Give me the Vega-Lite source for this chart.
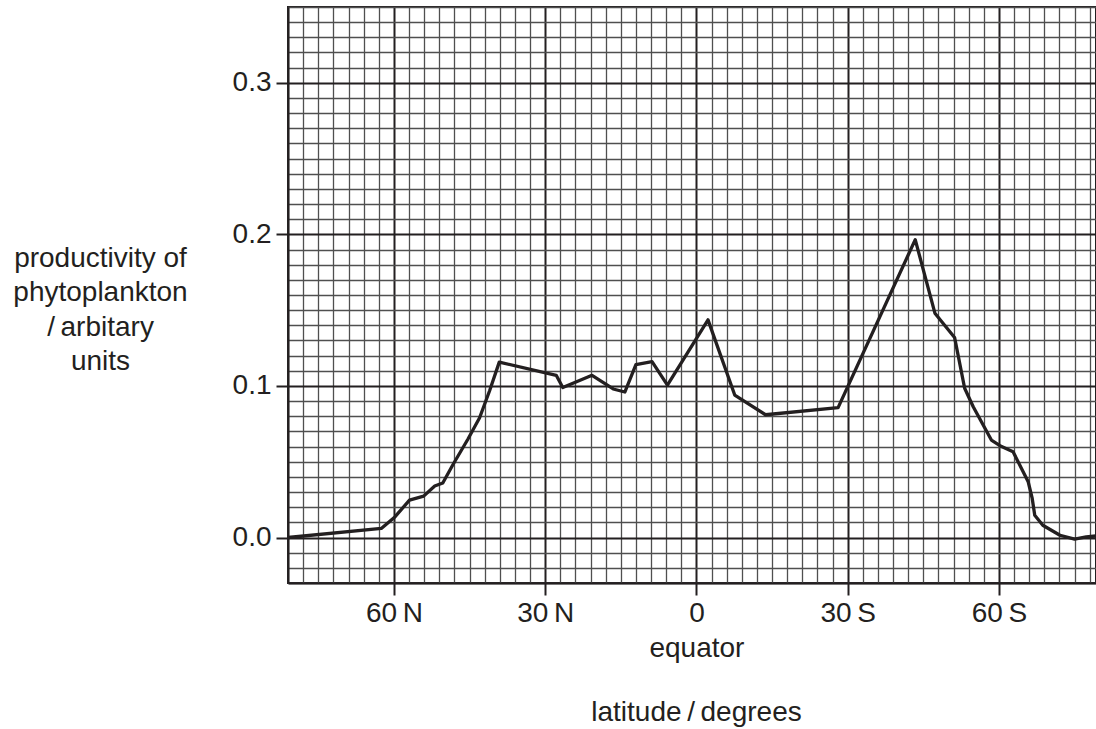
{
  "$schema": "https://vega.github.io/schema/vega-lite/v6.json",
  "width": 808,
  "height": 576,
  "autosize": "none",
  "padding": {"left": 288, "top": 7, "right": 0, "bottom": 146},
  "background": "white",
  "config": {
    "view": {"stroke": "#231f20", "strokeWidth": 2},
    "font": "Liberation Sans"
  },
  "data": {
    "values": [
      {"lat": -81, "productivity": 0},
      {"lat": -62.5, "productivity": 0.006},
      {"lat": -59.8, "productivity": 0.0136},
      {"lat": -56.9, "productivity": 0.0247},
      {"lat": -55.5, "productivity": 0.026},
      {"lat": -54.1, "productivity": 0.0273},
      {"lat": -51.9, "productivity": 0.034},
      {"lat": -50.3, "productivity": 0.036},
      {"lat": -48.3, "productivity": 0.048},
      {"lat": -45.3, "productivity": 0.065},
      {"lat": -43.0, "productivity": 0.079},
      {"lat": -41.0, "productivity": 0.097},
      {"lat": -39.1, "productivity": 0.1157},
      {"lat": -27.8, "productivity": 0.107},
      {"lat": -26.5, "productivity": 0.099},
      {"lat": -20.7, "productivity": 0.107},
      {"lat": -16.5, "productivity": 0.098},
      {"lat": -14.2, "productivity": 0.096},
      {"lat": -12.0, "productivity": 0.114},
      {"lat": -8.8, "productivity": 0.116},
      {"lat": -5.75, "productivity": 0.1005},
      {"lat": 2.3, "productivity": 0.1436},
      {"lat": 7.6, "productivity": 0.094},
      {"lat": 13.7, "productivity": 0.081},
      {"lat": 28.1, "productivity": 0.0857},
      {"lat": 43.4, "productivity": 0.1965},
      {"lat": 47.3, "productivity": 0.148},
      {"lat": 51.2, "productivity": 0.132},
      {"lat": 53.2, "productivity": 0.0985},
      {"lat": 54.9, "productivity": 0.0863},
      {"lat": 58.5, "productivity": 0.0643},
      {"lat": 60.2, "productivity": 0.0606},
      {"lat": 62.8, "productivity": 0.0566},
      {"lat": 65.8, "productivity": 0.0368},
      {"lat": 66.6, "productivity": 0.0258},
      {"lat": 67.1, "productivity": 0.0147},
      {"lat": 68.7, "productivity": 0.0081},
      {"lat": 72.1, "productivity": 0.0015},
      {"lat": 75.0, "productivity": -0.001},
      {"lat": 77.3, "productivity": 0.0004},
      {"lat": 79.2, "productivity": 0.001}
    ]
  },
  "mark": {"type": "line", "color": "#231f20", "strokeWidth": 3.3, "strokeJoin": "round", "clip": true},
  "encoding": {
    "x": {
      "field": "lat",
      "type": "quantitative",
      "scale": {"domain": [-81, 79.25], "nice": false, "zero": false},
      "axis": {
        "values": [-81,-78,-75,-72,-69,-66,-63,-60,-57,-54,-51,-48,-45,-42,-39,-36,-33,-30,-27,-24,-21,-18,-15,-12,-9,-6,-3,0,3,6,9,12,15,18,21,24,27,30,33,36,39,42,45,48,51,54,57,60,63,66,69,72,75,78],
        "grid": true,
        "gridColor": {"condition": {"test": "datum.value % 30 === 0", "value": "#231f20"}, "value": "#4f4f4f"},
        "gridWidth": {"condition": {"test": "datum.value % 30 === 0", "value": 2}, "value": 1.3},
        "domainColor": "#231f20",
        "domainWidth": 2,
        "ticks": true,
        "tickSize": 12,
        "tickWidth": 2,
        "tickColor": "#231f20",
        "tickOpacity": {"condition": {"test": "datum.value % 30 === 0", "value": 1}, "value": 0},
        "labelExpr": "datum.value === 0 ? ['0', 'equator'] : (datum.value % 30 === 0 ? abs(datum.value) + '\u2009' + (datum.value < 0 ? 'N' : 'S') : '')",
        "labelFontSize": 28,
        "labelColor": "#231f20",
        "labelPadding": 4,
        "labelOverlap": false,
        "labelBound": false,
        "labelFlush": false,
        "labelLineHeight": 35,
        "title": "latitude\u2009/\u2009degrees",
        "titleFontSize": 28,
        "titleFontWeight": "normal",
        "titleColor": "#231f20",
        "titleX": 408,
        "titleY": 129,
        "titleAlign": "center",
        "titleBaseline": "middle"
      }
    },
    "y": {
      "field": "productivity",
      "type": "quantitative",
      "scale": {"domain": [-0.03, 0.35], "nice": false, "zero": false},
      "axis": {
        "values": [-0.03,-0.02,-0.01,0,0.01,0.02,0.03,0.04,0.05,0.06,0.07,0.08,0.09,0.1,0.11,0.12,0.13,0.14,0.15,0.16,0.17,0.18,0.19,0.2,0.21,0.22,0.23,0.24,0.25,0.26,0.27,0.28,0.29,0.3,0.31,0.32,0.33,0.34,0.35],
        "grid": true,
        "gridColor": {"condition": {"test": "abs(round(datum.value * 100)) % 10 === 0", "value": "#231f20"}, "value": "#4f4f4f"},
        "gridWidth": {"condition": {"test": "abs(round(datum.value * 100)) % 10 === 0", "value": 2}, "value": 1.3},
        "domainColor": "#231f20",
        "domainWidth": 2,
        "tickSize": 12,
        "tickWidth": 2,
        "tickColor": "#231f20",
        "tickOpacity": {"condition": {"test": "abs(round(datum.value * 100)) % 10 === 0", "value": 1}, "value": 0},
        "labelExpr": "abs(round(datum.value * 100)) % 10 === 0 ? format(datum.value, '.1f') : ''",
        "labelFontSize": 28,
        "labelColor": "#231f20",
        "labelPadding": 5,
        "labelOverlap": false,
        "labelBound": false,
        "labelFlush": false,
        "title": ["productivity of", "phytoplankton", "/\u2009arbitary", "units"],
        "titleFontSize": 28,
        "titleFontWeight": "normal",
        "titleColor": "#231f20",
        "titleAngle": 0,
        "titleAlign": "center",
        "titleBaseline": "middle",
        "titleLineHeight": 34.5,
        "titleX": -188,
        "titleY": 251
      }
    }
  }
}
